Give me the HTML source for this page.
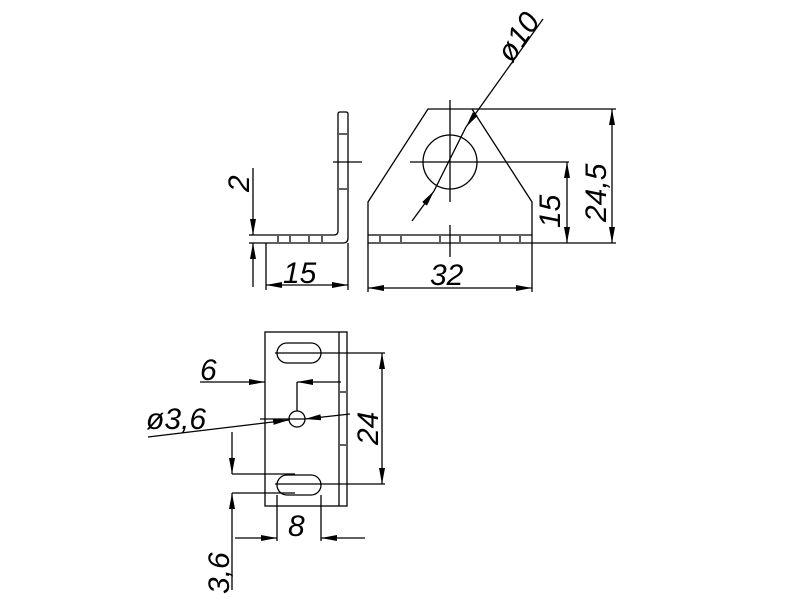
<!DOCTYPE html>
<html><head><meta charset="utf-8"><style>
html,body{margin:0;padding:0;background:#fff;}
svg{display:block}
text{font-family:"Liberation Sans",sans-serif;font-style:italic;font-size:30px;fill:#000}
</style></head><body>
<svg width="800" height="600" viewBox="0 0 800 600" xmlns="http://www.w3.org/2000/svg">
<defs>
<marker id="a" viewBox="0 0 16 6" refX="16" refY="3" markerWidth="16" markerHeight="6" orient="auto" markerUnits="userSpaceOnUse"><path d="M0,0 L16,3 L0,6 z" fill="#000"/></marker>
</defs>
<g stroke="#000" stroke-width="1.3" fill="none">
<path d="M253,235 L334,235 Q338,235 338,231 L338,114 Q338,112 340,112 L346,112 Q348,112 348,114 L348,238 Q348,243 343,243 L253,243"/>
<path d="M339,134 h8 M339,189 h8"/>
<path d="M278,236 v6 M290,236 v6 M309,236 v6 M322,236 v6"/>
<line x1="333" y1="162" x2="362" y2="162"/>
<line x1="249" y1="235" x2="253" y2="235"/><line x1="249" y1="243" x2="253" y2="243"/>
<line x1="253" y1="168" x2="253" y2="235" marker-end="url(#a)"/>
<line x1="253" y1="287" x2="253" y2="243" marker-end="url(#a)"/>
<line x1="266" y1="243" x2="266" y2="290"/><line x1="348" y1="243" x2="348" y2="290"/>
<line x1="300" y1="285" x2="266" y2="285" marker-end="url(#a)"/>
<line x1="300" y1="285" x2="348" y2="285" marker-end="url(#a)"/>
<path d="M428,109 L472,109 L532,202 L532,243 L368,243 L368,202 Z"/>
<line x1="368" y1="235" x2="532" y2="235"/>
<path d="M380,236 v6 M401,236 v6 M440,236 v6 M460,236 v6 M500,236 v6 M520,236 v6"/>
<circle cx="450" cy="162" r="27"/>
<line x1="450" y1="100" x2="450" y2="202"/><line x1="450" y1="225" x2="450" y2="257"/>
<line x1="410" y1="162" x2="569" y2="162"/>
<line x1="472" y1="109" x2="616" y2="109"/><line x1="532" y1="243" x2="616" y2="243"/>
<line x1="567" y1="200" x2="567" y2="162" marker-end="url(#a)"/>
<line x1="567" y1="200" x2="567" y2="243" marker-end="url(#a)"/>
<line x1="612" y1="180" x2="612" y2="109" marker-end="url(#a)"/>
<line x1="612" y1="180" x2="612" y2="243" marker-end="url(#a)"/>
<line x1="368" y1="243" x2="368" y2="292"/><line x1="532" y1="243" x2="532" y2="292"/>
<line x1="450" y1="288" x2="368" y2="288" marker-end="url(#a)"/>
<line x1="450" y1="288" x2="532" y2="288" marker-end="url(#a)"/>
<line x1="543" y1="19" x2="466" y2="127" marker-end="url(#a)"/>
<line x1="412" y1="221" x2="434" y2="191" marker-end="url(#a)"/>
<line x1="434" y1="191" x2="466" y2="127"/>
<rect x="265" y="332" width="82" height="174"/>
<line x1="339" y1="332" x2="339" y2="506"/>
<path d="M340,392 h6 M340,445 h6"/>
<rect x="277" y="343" width="44" height="20" rx="10"/>
<rect x="277" y="475" width="44" height="20" rx="10"/>
<circle cx="297" cy="419" r="8"/>
<line x1="275" y1="353" x2="385" y2="353"/><line x1="275" y1="484" x2="385" y2="484"/>
<line x1="382" y1="420" x2="382" y2="353" marker-end="url(#a)"/>
<line x1="382" y1="420" x2="382" y2="484" marker-end="url(#a)"/>
<line x1="297" y1="382" x2="297" y2="411"/>
<line x1="200" y1="382" x2="265" y2="382" marker-end="url(#a)"/>
<line x1="341" y1="382" x2="297" y2="382" marker-end="url(#a)"/>
<line x1="260" y1="419" x2="305" y2="419"/>
<line x1="148" y1="437" x2="289" y2="420" marker-end="url(#a)"/>
<line x1="350" y1="414" x2="305" y2="419" marker-end="url(#a)"/>
<line x1="232" y1="474" x2="295" y2="474"/><line x1="232" y1="493" x2="295" y2="493"/>
<line x1="232" y1="432" x2="232" y2="474" marker-end="url(#a)"/>
<line x1="232" y1="590" x2="232" y2="493" marker-end="url(#a)"/>
<line x1="277" y1="495" x2="277" y2="541"/><line x1="321" y1="495" x2="321" y2="541"/>
<line x1="235" y1="538" x2="277" y2="538" marker-end="url(#a)"/>
<line x1="365" y1="538" x2="321" y2="538" marker-end="url(#a)"/>
</g>
<text transform="translate(249,192) rotate(-90)">2</text>
<text x="283" y="283">15</text>
<text x="430" y="285">32</text>
<text transform="translate(560,228) rotate(-90)">15</text>
<text transform="translate(606,222) rotate(-90)">24,5</text>
<text transform="translate(512,64) rotate(-56)">ø10</text>
<text x="200" y="380">6</text>
<text x="146" y="429">ø3,6</text>
<text transform="translate(378,445) rotate(-90)">24</text>
<text x="288" y="536">8</text>
<text transform="translate(229,594) rotate(-90)">3,6</text>
</svg>
</body></html>
